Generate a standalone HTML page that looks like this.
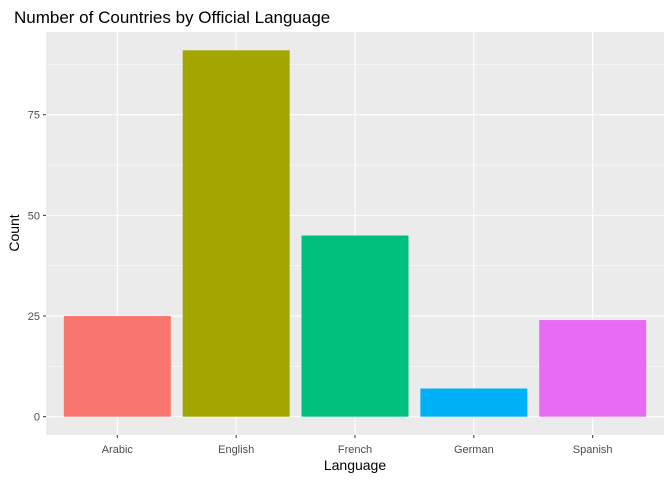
<!DOCTYPE html>
<html><head><meta charset="utf-8"><style>
body{margin:0;background:#fff;}
svg{display:block;font-family:"Liberation Sans",Arial,sans-serif;}
</style></head><body>
<svg id="chart" width="672" height="480">
<text x="14" y="23" font-size="17" fill="#000">Number of Countries by Official Language</text>
<rect x="46" y="32" width="618" height="403" fill="#EBEBEB"/>
<g id="grid"></g><g id="bars"></g><g id="axes"></g>
<text x="355" y="470" font-size="14" text-anchor="middle" fill="#000">Language</text>
<text transform="translate(19,233) rotate(-90)" font-size="14" text-anchor="middle" fill="#000">Count</text>
</svg>
<script>
const categories=["Arabic","English","French","German","Spanish"];
const counts=[25,91,45,7,24];
const colors=["#F8766D","#A3A500","#00BF7D","#00B0F6","#E76BF3"];
const yTicks=[0,25,50,75];
const ns="http://www.w3.org/2000/svg";
const L=46,R=664,T=32,B=435;
const ymax=Math.max(...counts);
const pad=ymax*0.05;
function y(v){return B-(v+pad)/(ymax+2*pad)*(B-T);}
const step=(R-L)/(categories.length-1+1.2);
function x(i){return L+step*(0.6+i);}
function mk(tag,attrs,parent){const e=document.createElementNS(ns,tag);for(const k in attrs)e.setAttribute(k,attrs[k]);parent.appendChild(e);return e;}
const grid=document.getElementById('grid'),bars=document.getElementById('bars'),axes=document.getElementById('axes');
for(let v=12.5;y(v)>T;v+=25){const l=mk('line',{x1:L,x2:R,y1:y(v),y2:y(v),stroke:'#fff','stroke-width':0.5},grid);

}
yTicks.forEach(v=>{const l=mk('line',{x1:L,x2:R,y1:y(v),y2:y(v),stroke:'#fff','stroke-width':1.1},grid);


const t=mk('text',{x:L-6,y:y(v)+4,'font-size':11,'text-anchor':'end',fill:'#4D4D4D'},axes);t.textContent=v;


const tk=mk('line',{x1:L-3,x2:L,y1:y(v),y2:y(v),stroke:'#333'},axes);

});
categories.forEach((c,i)=>{const g=mk('line',{x1:x(i),x2:x(i),y1:T,y2:B,stroke:'#fff','stroke-width':1.1},grid);


const w=step*0.9;
const r=mk('rect',{x:x(i)-w/2,y:y(counts[i]),width:w,height:y(0)-y(counts[i]),fill:colors[i]},bars);


const t=mk('text',{x:x(i),y:B+18,'font-size':11,'text-anchor':'middle',fill:'#4D4D4D'},axes);t.textContent=c;


const tk=mk('line',{x1:x(i),x2:x(i),y1:B,y2:B+3,stroke:'#333'},axes);

});
</script>
</body></html>
